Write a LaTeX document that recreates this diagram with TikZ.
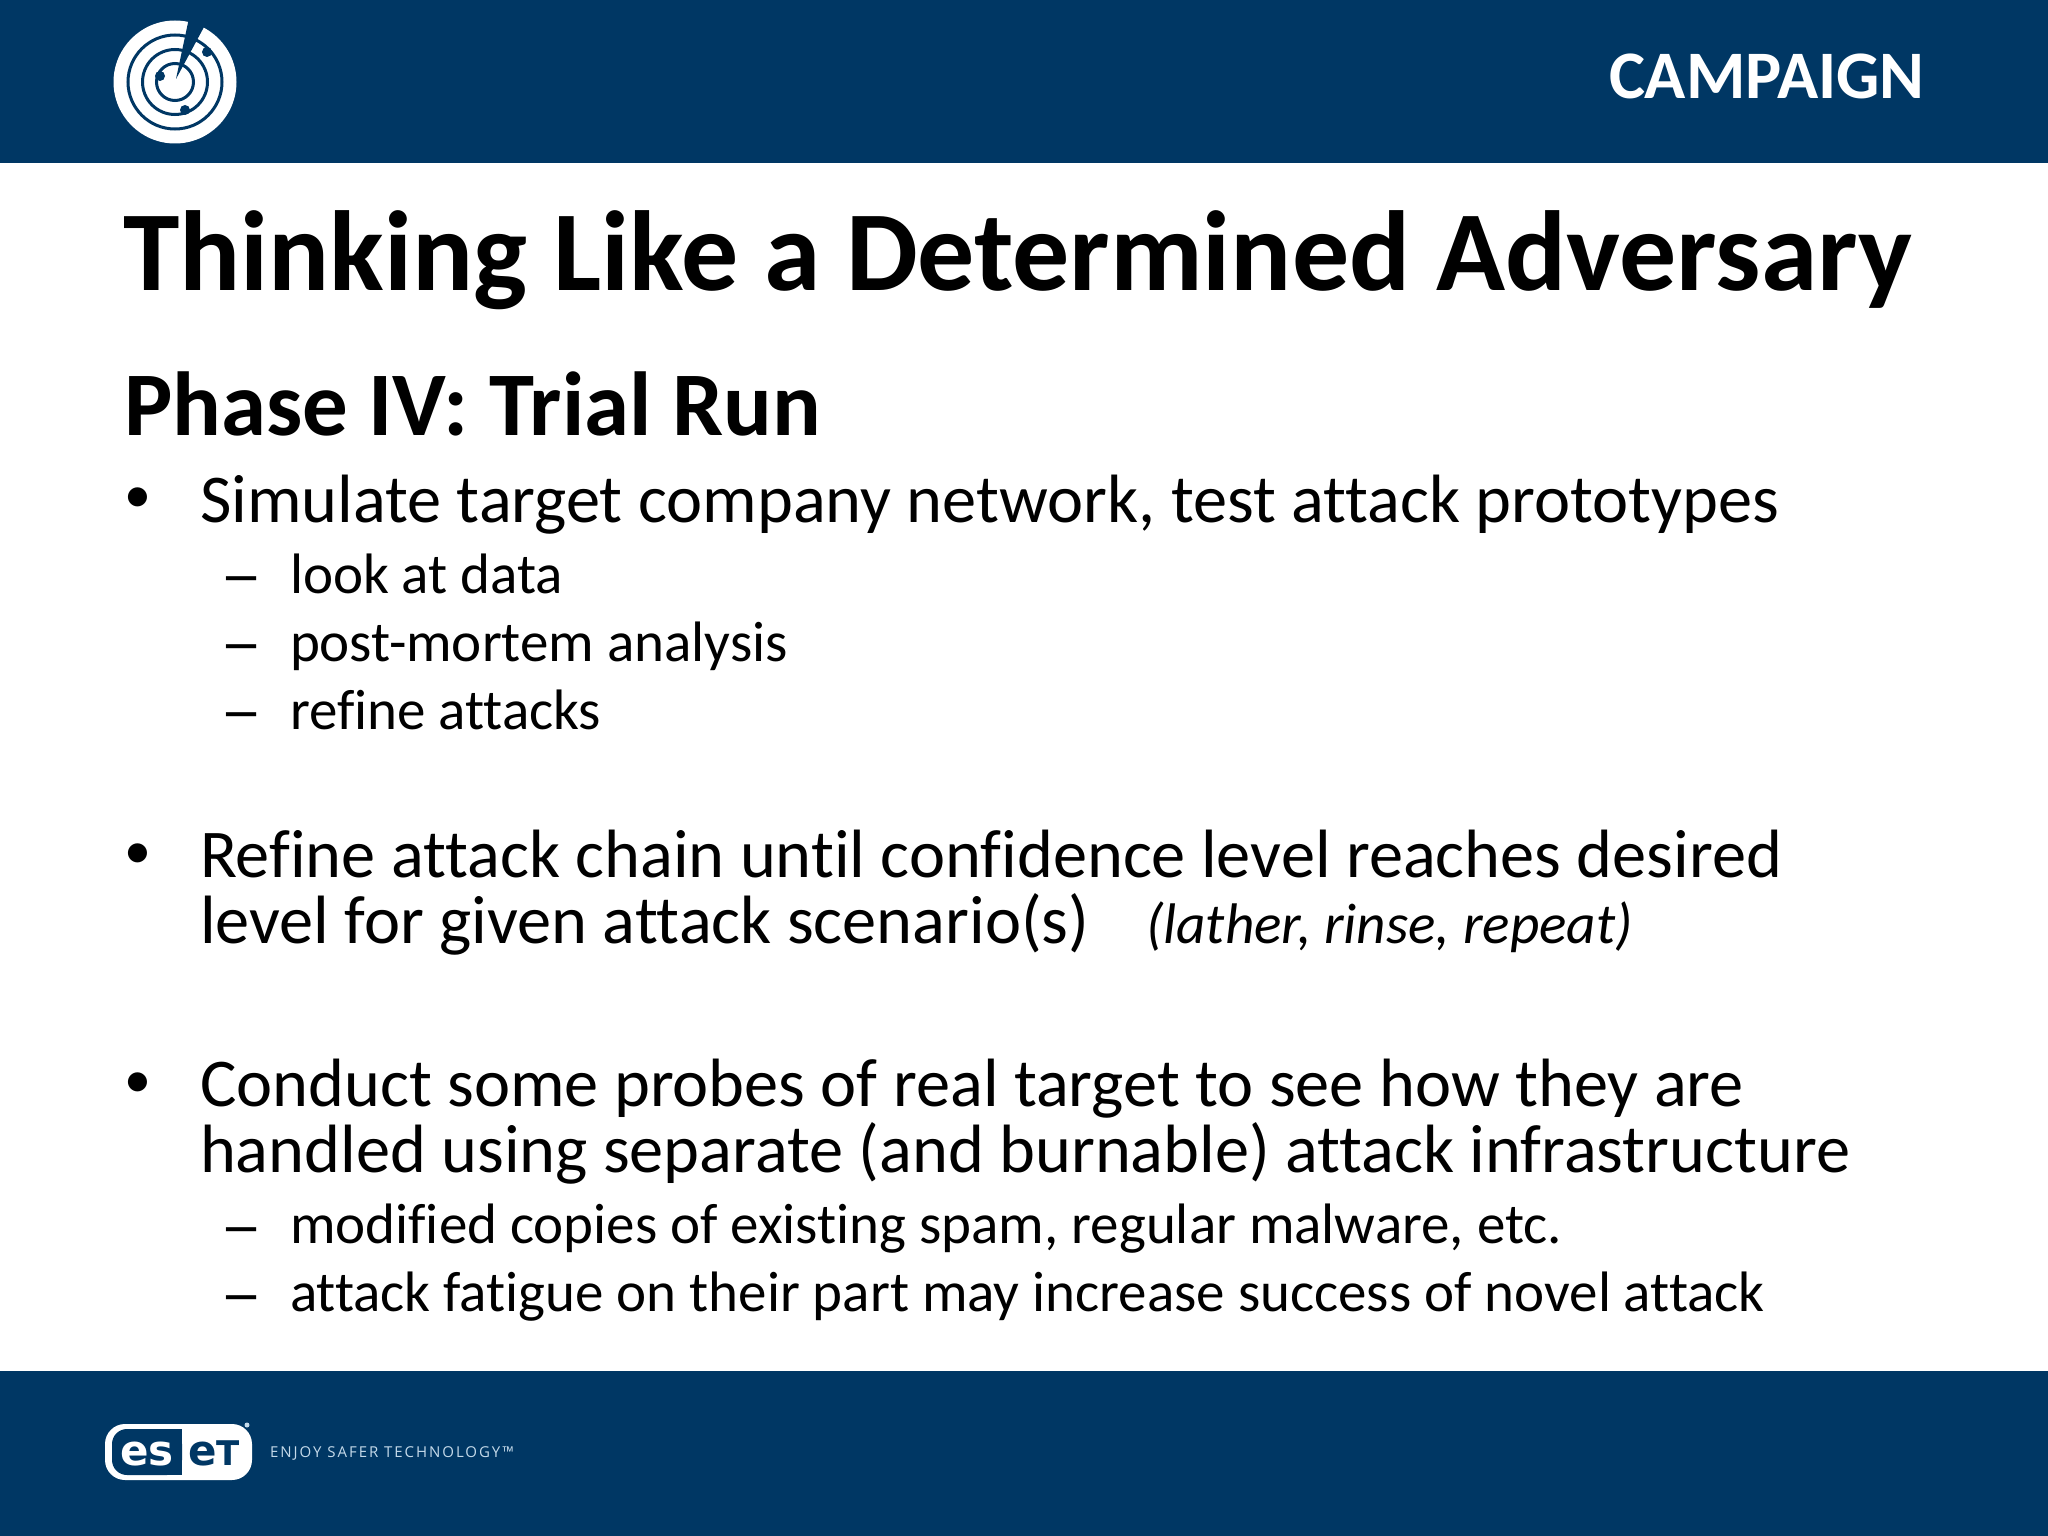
\documentclass[tikz,border=0pt]{standalone}
\usepackage{fontspec}
\setmainfont[RawFeature={-liga;-clig;-dlig}]{Carlito}
\newfontfamily\logofont{DejaVu Sans}
\newfontfamily\tagfont[LetterSpace=13]{Open Sans}
\definecolor{navy}{HTML}{003764}
\definecolor{tagblue}{HTML}{C5DAEA}
\tikzset{
  x=1pt,y=-1pt,
  txt/.style={anchor=base west,inner sep=0pt,outer sep=0pt,text=black},
  titletxt/.style={txt,font=\fontsize{113.9}{113.9}\selectfont\bfseries},
  headtxt/.style={txt,font=\fontsize{90.9}{90.9}\selectfont\bfseries},
  bodytxt/.style={txt,font=\fontsize{68.35}{68.35}\selectfont},
  bullettxt/.style={txt,font=\fontsize{54}{54}\selectfont},
  subtxt/.style={txt,font=\fontsize{57}{57}\selectfont},
  dashtxt/.style={txt,xscale=1.32,font=\fontsize{64}{64}\selectfont},
  itxt/.style={txt,font=\fontsize{57.2}{57.2}\selectfont\itshape},
  camp/.style={txt,text=white,font=\fontsize{68}{68}\selectfont\bfseries},
  logoA/.style={anchor=base west,inner sep=0pt,text=white,font=\fontsize{42}{42}\selectfont\logofont\bfseries},
  logoB/.style={logoA,text=navy},
  tagline/.style={anchor=base west,inner sep=0pt,text=tagblue,font=\fontsize{15}{15}\selectfont\tagfont},
  ringline/.style={draw=navy,line width=3pt},
  radardot/.style={fill=navy}
}
\begin{document}
\begin{tikzpicture}
\useasboundingbox (0,0) rectangle (2048,1536);
\fill[white] (0,0) rectangle (2048,1536);
\fill[navy] (0,0) rectangle (2048,163.5);
\fill[navy] (0,1371) rectangle (2048,1536);
% radar logo
\fill[white] (175,82) circle (61.5);
\draw[ringline] (175,82) circle (47);
\draw[ringline] (175,82) circle (32.5);
\draw[ringline] (175,82) circle (18.5);
\fill[navy] (176,79) -- (189,18) -- (204,27) -- cycle;
\fill[radardot] (207,52) circle (5);
\fill[radardot] (160,76) circle (5);
\fill[radardot] (185,110) circle (5);
\node[camp] (campaign) at (1609,99) {CAMPAIGN};
\node[titletxt] (title) at (123,290) {Thinking Like a Determined Adversary};
\node[headtxt] (phase) at (124,435) {Phase IV: Trial Run};
\node[bullettxt] (b1) at (124,512) {•};
\node[bodytxt] (l1) at (200,522) {Simulate target company network, test attack prototypes};
\node[dashtxt] (d1) at (220,596) {–};
\node[subtxt] (s1) at (290,593) {look at data};
\node[dashtxt] (d2) at (220,664) {–};
\node[subtxt] (s2) at (290,661) {post-mortem analysis};
\node[dashtxt] (d3) at (220,732) {–};
\node[subtxt] (s3) at (290,729) {refine attacks};
\node[bullettxt] (b2) at (124,868) {•};
\node[bodytxt] (l2) at (200,877) {Refine attack chain until confidence level reaches desired};
\node[bodytxt] (l3) at (200,943) {level for given attack scenario(s)};
\node[itxt] (lather) at (1146,943) {(lather, rinse, repeat)};
\node[bullettxt] (b3) at (124,1097) {•};
\node[bodytxt] (l4) at (200,1106) {Conduct some probes of real target to see how they are};
\node[bodytxt] (l5) at (200,1172) {handled using separate (and burnable) attack infrastructure};
\node[dashtxt] (d4) at (220,1247) {–};
\node[subtxt] (s4) at (290,1243) {modified copies of existing spam, regular malware, etc.};
\node[dashtxt] (d5) at (220,1315) {–};
\node[subtxt] (s5) at (290,1311) {attack fatigue on their part may increase success of novel attack};
% ESET logo
\fill[white,rounded corners=20pt] (105,1424) rectangle (252,1480);
\fill[navy,rounded corners=15pt] (112,1429) -- (182,1429) -- (182,1475) -- (112,1475) -- cycle;
\fill[navy] (160,1429) rectangle (182,1475);
\node[logoA] (es) at (120,1465) {es};
\node[logoB] (et) at (188,1465) {e{\fontsize{34}{34}\selectfont T}};
\fill[tagblue] (247,1425) circle (2.5);
\node[tagline] (tag) at (270,1457) {ENJOY SAFER TECHNOLOGY™};
\end{tikzpicture}
\end{document}
